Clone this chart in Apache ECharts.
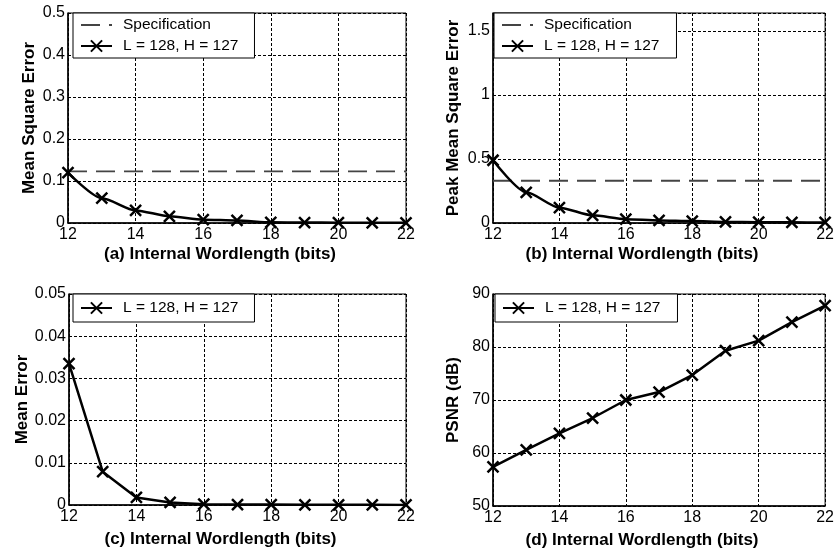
<!DOCTYPE html>
<html>
<head>
<meta charset="utf-8">
<script src="https://cdn.jsdelivr.net/npm/echarts@6/dist/echarts.min.js"></script>
<style>
html,body{margin:0;padding:0;background:#fff;}
#chart{width:837px;height:557px;}
</style>
</head>
<body>
<div id="chart"></div>
<script>
// ---- data ----
const wordlength = [12, 13, 14, 15, 16, 17, 18, 19, 20, 21, 22];
const mse = [0.120, 0.059, 0.030, 0.016, 0.008, 0.006, 0.0015, 0.001, 0.0008, 0.0005, 0.0004];
const mseSpec = 0.123;
const peakMse = [0.49, 0.24, 0.12, 0.06, 0.03, 0.02, 0.015, 0.008, 0.006, 0.005, 0.004];
const peakMseSpec = 0.33;
const meanError = [0.0335, 0.0079, 0.0018, 0.0006, 0.0002, 0.0001, 0.0001, 0.00005, 0.00005, 0.00003, 0.00002];
const psnr = [57.4, 60.6, 63.7, 66.6, 70.0, 71.5, 74.7, 79.3, 81.2, 84.7, 87.8];

const seriesName = 'L = 128, H = 127';
const specName = 'Specification';
const xNames = ['(a) Internal Wordlength (bits)', '(b) Internal Wordlength (bits)', '(c) Internal Wordlength (bits)', '(d) Internal Wordlength (bits)'];
const yNames = ['Mean Square Error', 'Peak Mean Square Error', 'Mean Error', 'PSNR (dB)'];

// ---- helpers ----
const FONT = '"Liberation Sans", Arial, Helvetica, sans-serif';
const XMARK = 'path://M0,0L10,10M10,0L0,10';
const pairs = ys => wordlength.map((x, i) => [x, ys[i]]);
const specLine = v => [[wordlength[0], v], [wordlength[wordlength.length - 1], v]];

const grids = [
  {left: 68, top: 13, width: 338, height: 210},
  {left: 493, top: 13, width: 337, height: 210},
  {left: 69, top: 294, width: 337, height: 211},
  {left: 493, top: 294, width: 337, height: 212}
];
const yCfg = [
  {min: 0, max: 0.5, interval: 0.1, gap: 30},
  {min: 0, max: 1.64, interval: 0.5, gap: 31},
  {min: 0, max: 0.05, interval: 0.01, gap: 38},
  {min: 50, max: 90, interval: 10, gap: 31}
];
const xGaps = [23, 23, 26, 26];
const smoothing = [0.25, 0.25, 0, 0];

const splitLine = {show: true, lineStyle: {color: '#000', type: [3, 2], width: 1}};

const specItem = {name: specName, itemStyle: {opacity: 0}};

const option = {
  backgroundColor: '#fff',
  animation: false,
  textStyle: {fontFamily: FONT, color: '#000'},
  grid: grids.map(g => Object.assign({show: true, borderColor: '#000', borderWidth: 1, backgroundColor: 'transparent'}, g)),
  xAxis: grids.map((g, i) => ({
    type: 'value', gridIndex: i, min: 12, max: 22, interval: 2,
    name: xNames[i], nameLocation: 'middle', nameGap: xGaps[i],
    nameTextStyle: {fontFamily: FONT, fontWeight: 'bold', fontSize: 17, color: '#000', padding: [0, 34, 0, 0]},
    axisLine: {show: true, lineStyle: {color: '#000', width: 1.5}},
    axisTick: {show: false},
    axisLabel: {fontFamily: FONT, fontSize: 16, color: '#000', margin: 4},
    splitLine: splitLine
  })),
  yAxis: grids.map((g, i) => ({
    type: 'value', gridIndex: i, min: yCfg[i].min, max: yCfg[i].max, interval: yCfg[i].interval,
    name: yNames[i], nameLocation: 'middle', nameGap: yCfg[i].gap, nameRotate: 90,
    nameTextStyle: {fontFamily: FONT, fontWeight: 'bold', fontSize: 17, color: '#000'},
    axisLine: {show: true, lineStyle: {color: '#000', width: 1.5}},
    axisTick: {show: false},
    axisLabel: {fontFamily: FONT, fontSize: 16, color: '#000', margin: 3, showMaxLabel: i !== 1},
    splitLine: splitLine
  })),
  legend: [
    {left: 73, top: 13, data: [specItem, seriesName], padding: [4, 16, 4, 7]},
    {left: 494, top: 13, data: [specItem, seriesName], padding: [4, 17, 4, 7]},
    {left: 73, top: 294, data: [seriesName], padding: [6, 16, 6, 7]},
    {left: 495, top: 294, data: [seriesName], padding: [6, 17, 6, 7]}
  ].map(l => Object.assign({
    orient: 'vertical', itemWidth: 31, itemHeight: 14, itemGap: 5,
    backgroundColor: '#fff', borderColor: '#000', borderWidth: 1, borderRadius: 0,
    selectedMode: false,
    textStyle: {fontFamily: FONT, fontSize: 15.5, color: '#000', padding: [0, 0, 0, 6]}
  }, l)),
  series: []
};

const mainLine = (data, idx) => ({
  name: seriesName, type: 'line', xAxisIndex: idx, yAxisIndex: idx,
  data: pairs(data), symbol: XMARK, symbolSize: 11, showSymbol: true,
  smooth: smoothing[idx], smoothMonotone: 'x',
  lineStyle: {color: '#000', width: 2.5},
  itemStyle: {color: 'transparent', borderColor: '#000', borderWidth: 2.5},
  z: 3
});
const spec = (v, idx) => ({
  name: specName, type: 'line', xAxisIndex: idx, yAxisIndex: idx,
  data: specLine(v), symbol: 'none',
  lineStyle: {color: '#444', width: 1.8, type: [19, 9]},
  itemStyle: {color: '#444'},
  z: 2
});

option.series.push(spec(mseSpec, 0), mainLine(mse, 0));
option.series.push(spec(peakMseSpec, 1), mainLine(peakMse, 1));
option.series.push(mainLine(meanError, 2));
option.series.push(mainLine(psnr, 3));

const chart = echarts.init(document.getElementById('chart'), null, {renderer: 'canvas'});
chart.setOption(option);
</script>
</body>
</html>
